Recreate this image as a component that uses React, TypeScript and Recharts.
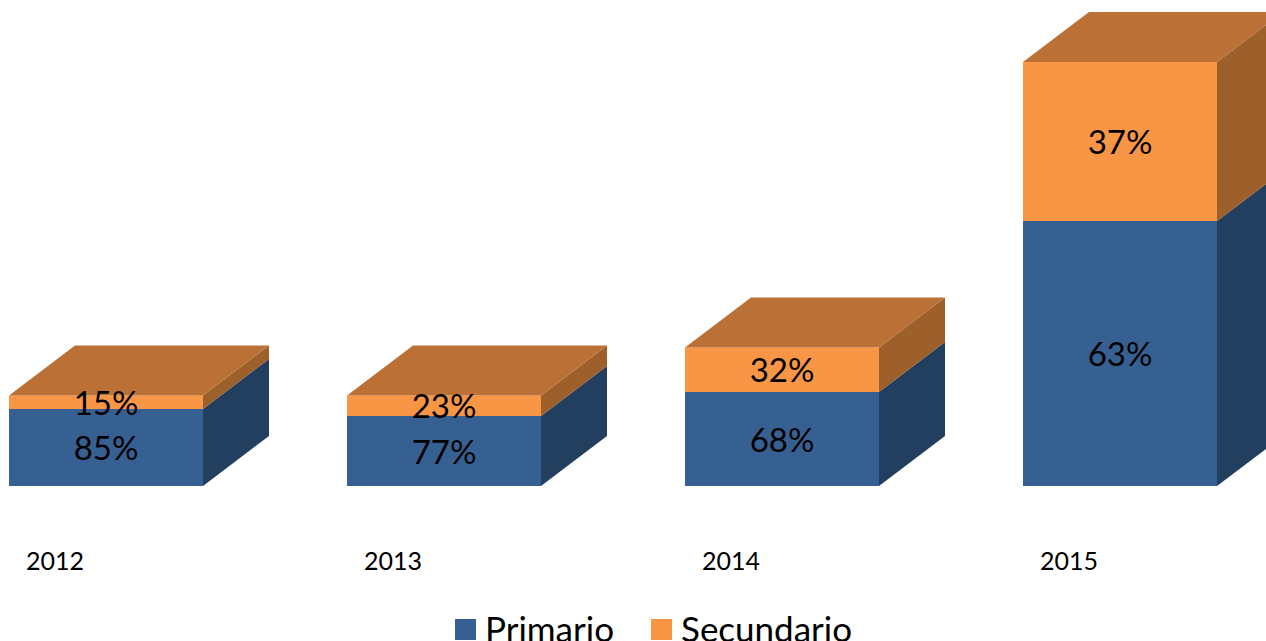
import { BarChart, Bar, XAxis, YAxis, Legend, LabelList } from 'recharts';

const years = ['2012', '2013', '2014', '2015'];
const primario = [77, 70, 94, 265];
const secundario = [13.5, 20.5, 44.5, 159];
const primarioPct = ['85%', '77%', '68%', '63%'];
const secundarioPct = ['15%', '23%', '32%', '37%'];

const FONT = 'Lato, sans-serif';
const BLUE = '#376092';
const ORANGE = '#f99646';
const DEPTH_X = 66;
const DEPTH_Y = 50;

const data = years.map((year, i) => ({
  year,
  primario: primario[i],
  secundario: secundario[i],
  primarioPct: primarioPct[i],
  secundarioPct: secundarioPct[i],
}));

function Box({ x, y, width, height, fill, side, top }: any) {
  const r = x + width;
  const b = y + height;
  return (
    <g>
      <rect x={x} y={y} width={width} height={height} fill={fill} />
      <polygon
        points={`${r},${y} ${r + DEPTH_X},${y - DEPTH_Y} ${r + DEPTH_X},${b - DEPTH_Y} ${r},${b}`}
        fill={side}
      />
      {top && (
        <polygon
          points={`${x},${y} ${x + DEPTH_X},${y - DEPTH_Y} ${r + DEPTH_X},${y - DEPTH_Y} ${r},${y}`}
          fill={top}
        />
      )}
    </g>
  );
}

function LegendRow() {
  const items = [
    { name: 'Primario', color: BLUE, left: 455 },
    { name: 'Secundario', color: ORANGE, left: 651 },
  ];
  return (
    <div style={{ position: 'relative', width: 500, height: 40 }}>
      {items.map((item) => (
        <div key={item.name}>
          <div
            style={{ position: 'absolute', left: item.left, top: 619, width: 21, height: 21, background: item.color }}
          />
          <span
            style={{
              position: 'absolute',
              left: item.left + 30,
              top: 608,
              fontFamily: FONT,
              fontSize: 35,
              lineHeight: '40px',
              color: '#000',
              whiteSpace: 'nowrap',
            }}
          >
            {item.name}
          </span>
        </div>
      ))}
    </div>
  );
}

export default function App() {
  return (
    <div style={{ position: 'absolute', left: 0, top: 0, width: 1266, height: 641, overflow: 'hidden' }}>
      <BarChart
        width={1266}
        height={641}
        data={data}
        barSize={194}
        margin={{ top: 0, right: -23, bottom: 0, left: -63 }}
      >
        <XAxis
          dataKey="year"
          axisLine={false}
          tickLine={false}
          height={155}
          dx={-51}
          dy={58}
          tick={{ fontFamily: FONT, fontSize: 25, fill: '#000' }}
          interval={0}
        />
        <YAxis hide domain={[0, 486]} />
        <Legend
          layout="horizontal"
          verticalAlign="middle"
          content={() => <LegendRow />}
          wrapperStyle={{ left: 0, top: 0, width: 1 }}
        />
        <Bar
          dataKey="primario"
          name="Primario"
          stackId="a"
          fill={BLUE}
          isAnimationActive={false}
          shape={(p: any) => <Box {...p} fill={BLUE} side="#223f5f" />}
        >
          <LabelList
            dataKey="primarioPct"
            position="center"
            fill="#000"
            dy={1}
            style={{ fontFamily: FONT, fontSize: 33 }}
          />
        </Bar>
        <Bar
          dataKey="secundario"
          name="Secundario"
          stackId="a"
          fill={ORANGE}
          isAnimationActive={false}
          shape={(p: any) => <Box {...p} fill={ORANGE} side="#9d602b" top="#bb7135" />}
        >
          <LabelList
            dataKey="secundarioPct"
            position="center"
            fill="#000"
            dy={1}
            style={{ fontFamily: FONT, fontSize: 33 }}
          />
        </Bar>
      </BarChart>
    </div>
  );
}
